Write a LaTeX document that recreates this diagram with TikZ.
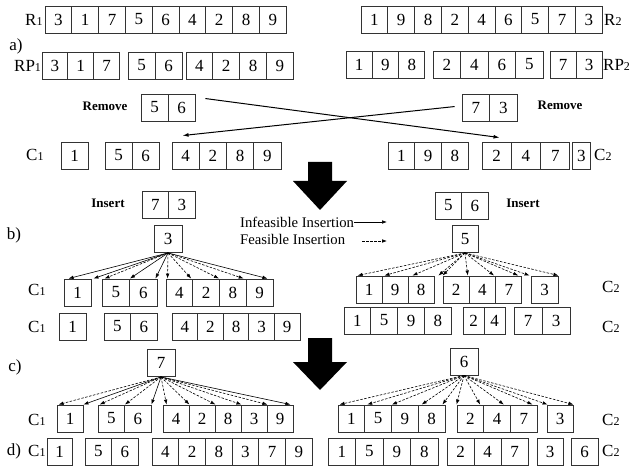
\documentclass[tikz,border=0pt]{standalone}
\usepackage{fontspec}
\setmainfont{Liberation Serif}
\usetikzlibrary{arrows.meta}

\tikzset{
  cell/.style={draw=black!80, line width=0.9pt, minimum height=27pt, inner sep=0pt,
               font=\fontsize{17}{17}\selectfont},
  lbl/.style={font=\fontsize{17}{17}\selectfont, inner sep=0pt, anchor=west},
  tag/.style={font=\fontsize{17}{17}\selectfont, inner sep=0pt},
  act/.style={font=\bfseries\fontsize{13}{13}\selectfont, inner sep=0pt},
  leg/.style={font=\fontsize{14.7}{15}\selectfont, inner sep=0pt, anchor=west},
  ins/.style={-{Latex[length=5pt,width=3.6pt]}, line width=0.6pt},
  inf/.style={ins},
  fea/.style={ins, dash pattern=on 2.5pt off 1.5pt},
  swap/.style={-{Latex[length=6pt,width=4pt]}, line width=1pt},
  bigarrow/.style={fill=black, draw=none},
}

% small index digit set on the base line
\newcommand\idx[1]{{\fontsize{12}{12}\selectfont #1}}

% a row of adjacent cells: name, left x, top y, cell width, values
\newcommand\cellrow[5]{%
  \foreach \v [count=\i] in {#5}{%
    \node[cell, minimum width=#4pt] (#1-\i) at ({#2+(\i-0.5)*#4},{#3+13.5}) {\v};}}

\begin{document}
\begin{tikzpicture}[x=1pt,y=-1pt]
\useasboundingbox (0,0) rectangle (635,468);

% ---------------- a) routes and their parts ----------------
\node[lbl] (lr1) at (25,19.5) {R\idx{1}};
\cellrow{r1}{45}{6}{26.8}{3,1,7,5,6,4,2,8,9}
\cellrow{r2}{361}{6}{26.8}{1,9,8,2,4,6,5,7,3}
\node[lbl] (lr2) at (604,19.5) {R\idx{2}};

\node[tag] (ta) at (16,46) {a)};

\node[lbl] (lrp1) at (14,66) {RP\idx{1}};
\cellrow{rp1a}{42}{52}{25.8}{3,1,7}
\cellrow{rp1b}{128}{52}{27}{5,6}
\cellrow{rp1c}{186}{52}{26.8}{4,2,8,9}
\cellrow{rp2a}{346}{51}{26.3}{1,9,8}
\cellrow{rp2b}{433}{51}{27.5}{2,4,6,5}
\cellrow{rp2c}{550}{51}{26}{7,3}
\node[lbl] (lrp2) at (603,65) {RP\idx{2}};

% removed strings
\node[act] (rml) at (105,106) {Remove};
\cellrow{rm1}{141}{94}{27}{5,6}
\cellrow{rm2}{462}{94}{27.5}{7,3}
\node[act] (rmr) at (560,105) {Remove};

% routes after removal
\node[lbl] (lc1) at (26,155) {C\idx{1}};
\cellrow{c1a}{61}{142}{27}{1}
\cellrow{c1b}{105}{142}{27}{5,6}
\cellrow{c1c}{172}{142}{27.25}{4,2,8,9}
\cellrow{c2a}{388}{142}{26.7}{1,9,8}
\cellrow{c2b}{482}{142}{29.3}{2,4,7}
\cellrow{c2c}{572}{142}{18.5}{3}
\node[lbl] (lc2) at (594,155) {C\idx{2}};

% exchange of the removed strings
\coordinate (m1s) at ([shift={(10,5)}]rm1-2.north east);
\coordinate (m1e) at ([shift={(18,-4)}]c2b-1.north west);
\coordinate (m2s) at ([shift={(-7,13)}]rm2-1.north west);
\coordinate (m2e) at ([shift={(11,-6)}]c1c-1.north west);
\draw[swap] (m1s) -- (m1e);
\draw[swap] (m2s) -- (m2e);

% step arrows
\fill[bigarrow] (308,162) -- (332,162) -- (332,181) -- (347,181) -- (320,210)
  -- (293,181) -- (308,181) -- cycle;
\fill[bigarrow] (308,338) -- (332,338) -- (332,362) -- (347,362) -- (320,390)
  -- (293,362) -- (308,362) -- cycle;

% legend
\node[leg] (leg1) at (240,222) {Infeasible Insertion};
\coordinate (leg1b) at (387,222);
\draw[inf] (leg1.east) -- (leg1b);
\node[leg] (leg2) at (240,239) {Feasible Insertion};
\coordinate (leg2a) at (362,241);
\coordinate (leg2b) at (387,241);
\draw[fea] (leg2a) -- (leg2b);

% ---------------- b) inserting the first customer ----------------
\node[tag] (tb) at (14,235) {b)};
\node[act] (insl) at (108,203) {Insert};
\cellrow{ins1}{142}{191}{26.5}{7,3}
\node[cell, minimum width=28pt] (r3) at (168,239) {3};

\cellrow{ins2}{435}{192}{26.5}{5,6}
\node[act] (insr) at (523,203) {Insert};
\node[cell, minimum width=26pt] (r5) at (465,239) {5};

\node[lbl] (lc1b1) at (28,290) {C\idx{1}};
\cellrow{c1ba}{64}{279}{27}{1}
\cellrow{c1bb}{102}{279}{27.5}{5,6}
\cellrow{c1bc}{166}{279}{26.75}{4,2,8,9}

\node[lbl] (lc1b2) at (28,327) {C\idx{1}};
\cellrow{c1da}{59}{313}{27}{1}
\cellrow{c1db}{104}{313}{26.5}{5,6}
\cellrow{c1dc}{172}{313}{25.6}{4,2,8,3,9}

\cellrow{c2ba}{356}{276}{26}{1,9,8}
\cellrow{c2bb}{443}{276}{26.3}{2,4,7}
\cellrow{c2bc}{531}{276}{27}{3}
\node[lbl] (lc2b1) at (602,287) {C\idx{2}};

\cellrow{c2da}{344}{307}{26.8}{1,5,9,8}
\cellrow{c2db}{463}{307}{21}{2,4}
\cellrow{c2dc}{514}{307}{28}{7,3}
\node[lbl] (lc2b2) at (602,327) {C\idx{2}};

% insertion positions of 3 in C1
\draw[inf] (r3.south) -- ([xshift=5pt]c1ba-1.north west);
\draw[inf] (r3.south) -- ([xshift=2pt]c1ba-1.north east);
\draw[fea] (r3.south) -- ([xshift=3pt]c1bb-1.north west);
\draw[inf] (r3.south) -- (c1bb-1.north east);
\draw[inf] (r3.south) -- ([xshift=-2pt]c1bb-2.north east);
\draw[fea] (r3.south) -- ([xshift=2pt]c1bc-1.north west);
\draw[fea] (r3.south) -- ([xshift=-2pt]c1bc-1.north east);
\draw[fea] (r3.south) -- ([xshift=-1pt]c1bc-2.north east);
\draw[fea] (r3.south) -- ([xshift=-3pt]c1bc-3.north east);
\draw[inf] (r3.south) -- ([xshift=-6pt]c1bc-4.north east);

% insertion positions of 5 in C2
\draw[fea] (r5.south) -- ([xshift=2pt]c2ba-1.north west);
\draw[fea] (r5.south) -- ([xshift=2pt]c2ba-1.north east);
\draw[fea] (r5.south) -- ([xshift=4pt]c2ba-2.north east);
\draw[fea] (r5.south) -- ([xshift=4pt]c2ba-3.north east);
\draw[fea] (r5.south) -- (c2bb-1.north west);
\draw[fea] (r5.south) -- ([xshift=-2pt]c2bb-1.north east);
\draw[fea] (r5.south) -- ([xshift=-2pt]c2bb-2.north east);
\draw[fea] (r5.south) -- ([xshift=-4pt]c2bb-3.north east);
\draw[fea] (r5.south) -- ([xshift=-1pt]c2bc-1.north west);
\draw[fea] (r5.south) -- (c2bc-1.north east);

% ---------------- c) inserting the second customer ----------------
\node[tag] (tc) at (15,367) {c)};
\node[cell, minimum width=28pt] (r7) at (161,363) {7};
\node[cell, minimum width=28pt] (r6) at (464,361.5) {6};

\node[lbl] (lc1c) at (28,420) {C\idx{1}};
\cellrow{c1ca}{57}{405}{26}{1}
\cellrow{c1cb}{98}{405}{26.5}{5,6}
\cellrow{c1cc}{163}{405}{26}{4,2,8,3,9}

\cellrow{c2ca}{338}{405}{26.75}{1,5,9,8}
\cellrow{c2cb}{457}{405}{26.7}{2,4,7}
\cellrow{c2cc}{547}{405}{26}{3}
\node[lbl] (lc2c) at (602,420) {C\idx{2}};

% insertion positions of 7 in C1
\draw[fea] (r7.south) -- ([xshift=2pt]c1ca-1.north west);
\draw[inf] (r7.south) -- (c1ca-1.north east);
\draw[fea] (r7.south) -- ([xshift=2pt]c1cb-1.north west);
\draw[fea] (r7.south) -- (c1cb-1.north east);
\draw[inf] (r7.south) -- (c1cb-2.north east);
\draw[fea] (r7.south) -- ([xshift=4pt]c1cc-1.north west);
\draw[fea] (r7.south) -- (c1cc-1.north east);
\draw[fea] (r7.south) -- (c1cc-2.north east);
\draw[fea] (r7.south) -- (c1cc-3.north east);
\draw[fea] (r7.south) -- (c1cc-4.north east);
\draw[inf] (r7.south) -- ([xshift=-3pt]c1cc-5.north east);

% insertion positions of 6 in C2
\draw[fea] (r6.south) -- ([xshift=2pt]c2ca-1.north west);
\draw[fea] (r6.south) -- ([xshift=2pt]c2ca-1.north east);
\draw[fea] (r6.south) -- (c2ca-2.north east);
\draw[fea] (r6.south) -- ([xshift=3pt]c2ca-3.north east);
\draw[fea] (r6.south) -- ([xshift=-3pt]c2ca-4.north east);
\draw[fea] (r6.south) -- (c2cb-1.north west);
\draw[fea] (r6.south) -- ([xshift=-4pt]c2cb-1.north east);
\draw[fea] (r6.south) -- ([xshift=-7pt]c2cb-2.north east);
\draw[fea] (r6.south) -- ([xshift=-5pt]c2cb-3.north east);
\draw[fea] (r6.south) -- ([xshift=1pt]c2cc-1.north west);
\draw[fea] (r6.south) -- (c2cc-1.north east);

% ---------------- d) resulting routes ----------------
\node[tag] (td) at (14,451) {d)};
\node[lbl] (lc1d) at (28,451) {C\idx{1}};
\cellrow{d1a}{47}{438}{25}{1}
\cellrow{d1b}{85}{438}{26.5}{5,6}
\cellrow{d1c}{152}{438}{26.7}{4,2,8,3,7,9}

\cellrow{d2a}{328}{438}{27.5}{1,5,9,8}
\cellrow{d2b}{447}{438}{27}{2,4,7}
\cellrow{d2c}{537}{438}{26}{3}
\cellrow{d2d}{571}{438}{27}{6}
\node[lbl] (lc2d) at (602,451) {C\idx{2}};
\end{tikzpicture}
\end{document}
